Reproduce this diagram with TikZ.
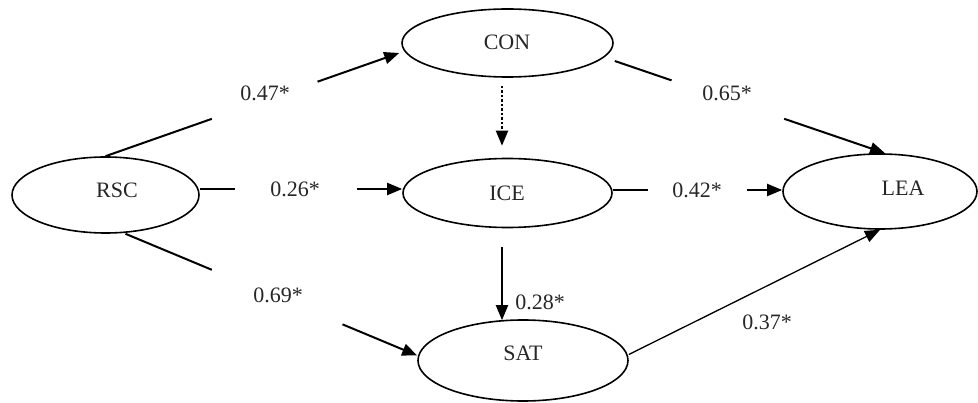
\documentclass[tikz,border=0pt]{standalone}
\usepackage{fontspec}
\setmainfont{Liberation Serif}
\usetikzlibrary{shapes.geometric,arrows.meta}

\begin{document}
\begin{tikzpicture}[x=1pt,y=-1pt,
  latent/.style={ellipse,draw,line width=1.6pt,inner sep=0pt},
  vname/.style={font=\fontsize{22}{26}\selectfont,text=black!85,inner sep=0pt},
  coef/.style={font=\fontsize{22}{26}\selectfont,text=black!85,inner sep=0pt},
  link/.style={line width=2pt},
  headed/.style={link,-{Triangle[length=15pt,width=12pt]}},
  thinhead/.style={line width=1.3pt,-{Triangle[length=15pt,width=12pt]}},
  dotlink/.style={line width=2pt,dash pattern=on 2.5pt off 2pt,-{Triangle[length=15pt,width=12pt]}},
]
\useasboundingbox (0,0) rectangle (978,403);

% latent variables
\node[latent,minimum width=187pt,minimum height=76pt] (rsc) at (105.5,195) {};
\node[latent,minimum width=211pt,minimum height=68pt] (con) at (507.5,43) {};
\node[latent,minimum width=209pt,minimum height=69pt] (ice) at (507.5,193) {};
\node[latent,minimum width=194pt,minimum height=75pt] (lea) at (880,191.5) {};
\node[latent,minimum width=210pt,minimum height=81pt] (sat) at (523,360.5) {};

\node[vname] at (117,190) {RSC};
\node[vname] at (507,42) {CON};
\node[vname] at (507,193) {ICE};
\node[vname] at (903,188) {LEA};
\node[vname] at (523,353) {SAT};

% end points on the ellipses
\coordinate (rscA) at (rsc.north);
\coordinate (conA) at ([xshift=-2pt,yshift=-10pt]con.west);
\coordinate (rscB) at ([yshift=6pt]rsc.east);
\coordinate (iceB) at ([yshift=4pt]ice.west);
\coordinate (rscC) at ([xshift=20pt]rsc.south);
\coordinate (satC) at ([yshift=5pt]sat.west);
\coordinate (conD) at ([xshift=1pt,yshift=-18pt]con.east);
\coordinate (leaD) at ([xshift=5pt]lea.north);
\coordinate (iceE) at ([yshift=3pt]ice.east);
\coordinate (leaE) at ([yshift=1.5pt]lea.west);

% paths broken around their coefficients
\path (rscA) -- (conA) coordinate[pos=0.362] (g1a) coordinate[pos=0.722] (g1b);
\draw[link] (rscA) -- (g1a);
\draw[headed] (g1b) -- (conA);
\node[coef] at (265,93) {0.47*};

\path (rscB) -- (iceB) coordinate[pos=0.176] (g2a) coordinate[pos=0.779] (g2b);
\draw[link] (rscB) -- (g2a);
\draw[headed] (g2b) -- (iceB);
\node[coef] at (295,189) {0.26*};

\path (rscC) -- (satC) coordinate[pos=0.296] (g3a) coordinate[pos=0.744] (g3b);
\draw[link] (rscC) -- (g3a);
\draw[headed] (g3b) -- (satC);
\node[coef] at (278,295) {0.69*};

\path (conD) -- (leaD) coordinate[pos=0.210] (g4a) coordinate[pos=0.627] (g4b);
\draw[link] (conD) -- (g4a);
\draw[headed] (g4b) -- (leaD);
\node[coef] at (727,93) {0.65*};

\path (iceE) -- (leaE) coordinate[pos=0.205] (g5a) coordinate[pos=0.795] (g5b);
\draw[link] (iceE) -- (g5a);
\draw[headed] (g5b) -- (leaE);
\node[coef] at (697,190) {0.42*};

% vertical paths
\draw[dotlink] ([xshift=-5.5pt,yshift=-8pt]con.south) -- ([xshift=-5.5pt,yshift=12pt]ice.north);
\draw[headed] ([xshift=-5.5pt,yshift=-18.5pt]ice.south) -- ([xshift=-21pt,yshift=-1pt]sat.north);
\node[coef] at (540,302) {0.28*};

% satisfaction to learning
\draw[thinhead] ([yshift=6pt]sat.east) -- (lea.south);
\node[coef] at (767,322) {0.37*};
\end{tikzpicture}
\end{document}
